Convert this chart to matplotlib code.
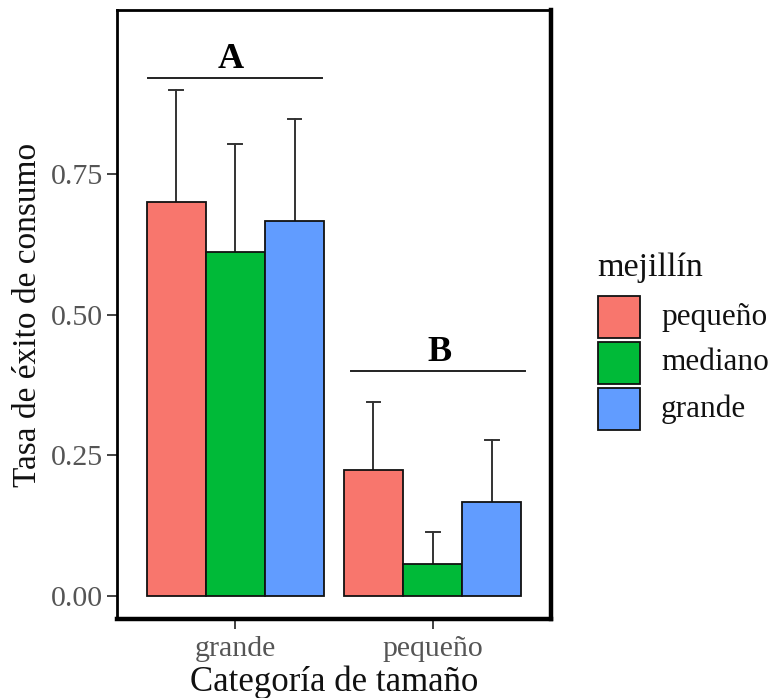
import matplotlib
matplotlib.use("Agg")
import matplotlib.pyplot as plt
from matplotlib.patches import Rectangle
import numpy as np

plt.rcParams['font.family'] = ['Liberation Serif', 'DejaVu Serif']

categories = ["grande", "pequeño"]
series = ["pequeño", "mediano", "grande"]
values = {
    "pequeño": [0.70, 0.224],
    "mediano": [0.610, 0.057],
    "grande": [0.665, 0.167],
}
err_tops = {
    "pequeño": [0.898, 0.344],
    "mediano": [0.803, 0.114],
    "grande": [0.846, 0.278],
}
colors = {"pequeño": "#F8766D", "mediano": "#00BA38", "grande": "#619CFF"}
letters = ["A", "B"]
letter_line_y = [0.920, 0.399]
letter_line_x = [(0.555, 1.438), (1.586, 2.468)]
letter_text_x = [0.975, 2.035]
letter_text_y = [0.952, 0.432]
yticks = [0.00, 0.25, 0.50, 0.75]

W, H = 770, 698
fig = plt.figure(figsize=(W / 100, H / 100), dpi=100)
ax = fig.add_axes([117 / W, 1 - 619 / H, (551 - 117) / W, (619 - 10) / H])

x = np.arange(1, len(categories) + 1)
w = 0.3
for i, s in enumerate(series):
    xs = x + (i - 1) * w
    ax.bar(xs, values[s], width=w, color=colors[s], edgecolor="#111111", linewidth=1.3, zorder=2)
    for xi, v, t in zip(xs, values[s], err_tops[s]):
        ax.plot([xi, xi], [v, t], color="#333333", lw=1.4, zorder=1)
        ax.plot([xi - 0.035, xi + 0.035], [t, t], color="#333333", lw=1.4, zorder=1)

for L, ly, (x0, x1), tx, ty in zip(letters, letter_line_y, letter_line_x, letter_text_x, letter_text_y):
    ax.plot([x0, x1], [ly, ly], color="#222222", lw=1.4)
    ax.text(tx, ty, L, ha="center", va="center", fontsize=26, fontweight="bold")

ax.set_xlim(0.4, 2.6)
ax.set_ylim(-0.04, 1.04)
ax.set_xticks(x)
ax.set_xticklabels(categories)
ax.set_yticks(yticks)
ax.set_yticklabels([f"{v:.2f}" for v in yticks])
ax.tick_params(axis="both", labelsize=21.5, labelcolor="#555555", color="#333333",
               length=7, width=1.3)
ax.tick_params(axis="x", pad=5)
ax.tick_params(axis="y", pad=3)
ax.set_xlabel("Categoría de tamaño", fontsize=25, labelpad=3, color="#111111")
ax.set_ylabel("Tasa de éxito de consumo", fontsize=24, labelpad=6, color="#111111")
for side, sp in ax.spines.items():
    sp.set_color("black")
    sp.set_linewidth(3.2 if side in ("bottom", "right") else 2.0)

# legend drawn in figure pixel coordinates
fig.text(597 / W, 1 - 268 / H, "mejillín", fontsize=24.5, ha="left", va="center", color="#111111")
key_tops = [296, 342, 388]
for s, top in zip(series, key_tops):
    fig.add_artist(Rectangle((598 / W, 1 - (top + 42) / H), 42 / W, 42 / H,
                             transform=fig.transFigure, facecolor=colors[s],
                             edgecolor="#111111", linewidth=1.3))
    fig.text(661 / W, 1 - (top + 21) / H, s, fontsize=22.5, ha="left", va="center", color="#111111")

fig.savefig("out.png", dpi=100)
